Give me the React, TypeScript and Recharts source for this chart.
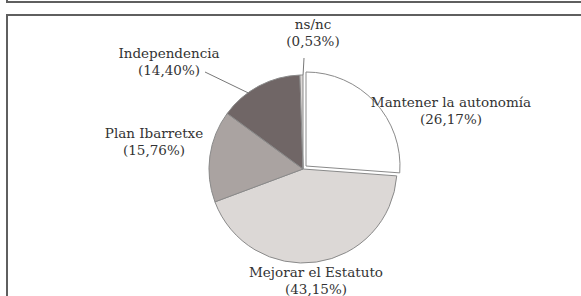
import { PieChart, Pie, Cell } from 'recharts';

// Opinion shares, clockwise from the top
const categories = ['Mantener la autonomía', 'Mejorar el Estatuto', 'Plan Ibarretxe', 'Independencia', 'ns/nc'];
const shares = [26.17, 43.15, 15.76, 14.4, 0.53];
const fills = ['#ffffff', '#dcd8d6', '#aaa3a1', '#706666', '#dcd8d6'];

const data = categories.map((name, i) => ({ name, value: shares[i] }));

const EXPLODED = 'Mantener la autonomía';
const CX = 298;
const CY = 164;
const R = 94;
const FONT = '"DejaVu Serif", serif';

// where each label block sits, relative to the pie centre (baseline of first line)
const labelPlacement: Record<string, { dx: number; dy: number; leader?: [number, number]; turn?: number }> = {
  'Mantener la autonomía': { dx: 148, dy: -62 },
  'Mejorar el Estatuto': { dx: 13, dy: 108 },
  'Plan Ibarretxe': { dx: -149, dy: -31 },
  Independencia: { dx: -134, dy: -111, leader: [-98, -97], turn: 8 },
  'ns/nc': { dx: 10, dy: -140, leader: [1, -111], turn: -1 },
};

const RAD = Math.PI / 180;

function SliceLabel(props: any) {
  const { cx, cy, midAngle, outerRadius, name, value } = props;
  const place = labelPlacement[name];
  if (!place) return null;
  const x = cx + place.dx;
  const y = cy + place.dy;
  const pct = `(${Number(value).toFixed(2).replace('.', ',')}%)`;

  let leader = null;
  if (place.leader) {
    const a = (midAngle + (place.turn ?? 0)) * RAD;
    const ex = cx + outerRadius * Math.cos(-a);
    const ey = cy + outerRadius * Math.sin(-a);
    leader = (
      <line x1={cx + place.leader[0]} y1={cy + place.leader[1]} x2={ex} y2={ey} stroke="#777" strokeWidth={1} />
    );
  }

  return (
    <g>
      {leader}
      <text
        x={x}
        y={y}
        textAnchor="middle"
        fill="#333"
        fontFamily={FONT}
        fontSize={13.5}
        style={{ fontFamily: FONT, fontSize: 13.5 }}
      >
        <tspan x={x}>{name}</tspan>
        <tspan x={x} dy={17}>
          {pct}
        </tspan>
      </text>
    </g>
  );
}

export default function App() {
  return (
    <div
      style={{
        position: 'absolute',
        left: 0,
        top: 0,
        width: 581,
        height: 296,
        background: '#fff',
        overflow: 'hidden',
      }}
    >
      <div
        style={{
          position: 'absolute',
          left: 6,
          top: -10,
          width: 620,
          height: 13,
          boxSizing: 'border-box',
          border: '2px solid #5f5f5f',
        }}
      />
      <div
        style={{
          position: 'absolute',
          left: 6,
          top: 14,
          width: 620,
          height: 400,
          boxSizing: 'border-box',
          border: '2px solid #5f5f5f',
        }}
      />
      <div style={{ position: 'absolute', left: 0, top: 0 }}>
        <PieChart width={581} height={296}>
          <Pie
            data={data}
            dataKey="value"
            nameKey="name"
            cx={CX}
            cy={CY}
            outerRadius={R}
            startAngle={90}
            endAngle={-270}
            stroke="#8a8a8a"
            strokeWidth={1}
            label={SliceLabel}
            labelLine={false}
            isAnimationActive={false}
          >
            {data.map((d, i) => (
              <Cell
                key={d.name}
                fill={d.name === EXPLODED ? 'none' : fills[i]}
                stroke={d.name === EXPLODED ? 'none' : '#8a8a8a'}
              />
            ))}
          </Pie>
          <Pie
            data={data}
            dataKey="value"
            nameKey="name"
            cx={CX + 3}
            cy={CY - 3}
            outerRadius={R}
            startAngle={90}
            endAngle={-270}
            isAnimationActive={false}
          >
            {data.map((d, i) => (
              <Cell
                key={d.name}
                fill={d.name === EXPLODED ? fills[i] : 'none'}
                stroke={d.name === EXPLODED ? '#8a8a8a' : 'none'}
              />
            ))}
          </Pie>
        </PieChart>
      </div>
    </div>
  );
}
